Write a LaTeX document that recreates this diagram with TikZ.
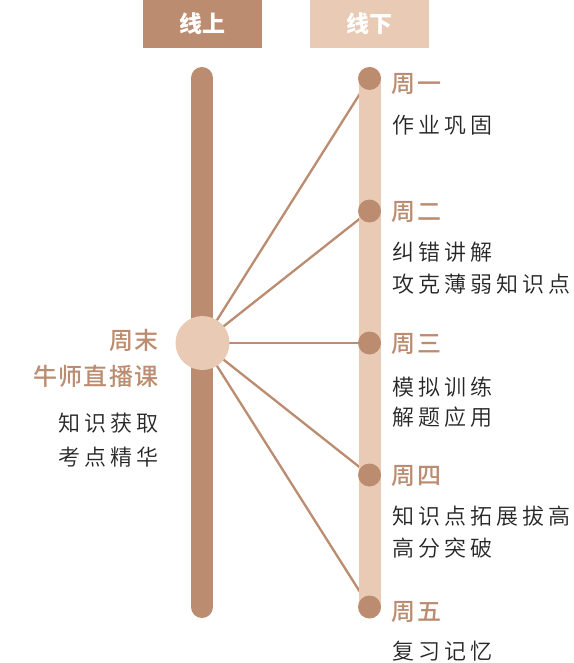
\documentclass[tikz,border=0pt]{standalone}
\usepackage{fontspec}
\setmainfont{Noto Sans CJK SC}
\newfontfamily\descfont[LetterSpace=18,UprightFont=* DemiLight]{Noto Sans CJK SC}
\newfontfamily\dayfont[LetterSpace=6,UprightFont=* Medium]{Noto Sans CJK SC}
\usetikzlibrary{backgrounds}
\definecolor{bardark}{RGB}{188,140,112}
\definecolor{barlight}{RGB}{232,202,181}

\begin{document}
\begin{tikzpicture}[x=1pt,y=-1pt,
	tab/.style={rectangle,minimum width=119pt,minimum height=48pt,inner sep=0pt,text=white,font=\bfseries\fontsize{23}{23}\selectfont},
	bar/.style={line width=22pt,line cap=round},
	hub/.style={circle,fill=barlight,minimum size=54pt,inner sep=0pt},
	dot/.style={circle,fill=bardark,minimum size=23pt,inner sep=0pt},
	link/.style={draw=bardark,line width=2.3pt},
	day/.style={inner sep=0pt,text=bardark,font=\dayfont\fontsize{24}{#1}\selectfont},
	day/.default=36,
	desc/.style={inner sep=0pt,text=black!85,font=\descfont\fontsize{22}{#1}\selectfont},
	desc/.default=32]
	\useasboundingbox (0,0) rectangle (573,663);
	% header tabs
	\node[tab,fill=bardark] (online) at (202,24) {线上};
	\node[tab,fill=barlight] (offline) at (369.5,24) {线下};
	% two bars
	\draw[bar,bardark] (202,78) -- (202,607);
	\draw[bar,barlight] (369.5,78) -- (369.5,607);
	\node[hub] (hub) at (202.5,343) {};
	\foreach \n/\y in {1/78.5,2/211,3/343,4/475,5/607}
		\node[dot] (d\n) at (369.5,\y) {};
	\begin{scope}[on background layer]
		\fill[white] (0,0) rectangle (573,663);
		\foreach \n in {1,...,5}
			\draw[link] (hub.center) -- (d\n.center);
	\end{scope}
	% left side (base = last line)
	\node[day,anchor=base east,align=right] (weekend) at (159,385) {周末\\牛师直播课};
	\node[desc=33.5,anchor=base east,align=right] (weekendtxt) at (159,465) {知识获取\\考点精华};
	% right side
	\node[day,anchor=base west] (w1) at (391.5,93) {周一};
	\node[desc,anchor=base west] (t1) at (392.5,133.5) {作业巩固};
	\node[day,anchor=base west] (w2) at (391.5,220) {周二};
	\node[desc=32.5,anchor=base west,align=left] (t2) at (392.5,292.5) {纠错讲解\\攻克薄弱知识点};
	\node[day,anchor=base west] (w3) at (391.5,352) {周三};
	\node[desc=30,anchor=base west,align=left] (t3) at (392.5,425) {模拟训练\\解题应用};
	\node[day,anchor=base west] (w4) at (391.5,484) {周四};
	\node[desc=31.5,anchor=base west,align=left] (t4) at (392.5,556) {知识点拓展拔高\\高分突破};
	\node[day,anchor=base west] (w5) at (391.5,620) {周五};
	\node[desc,anchor=base west] (t5) at (392.5,659.5) {复习记忆};
\end{tikzpicture}
\end{document}
